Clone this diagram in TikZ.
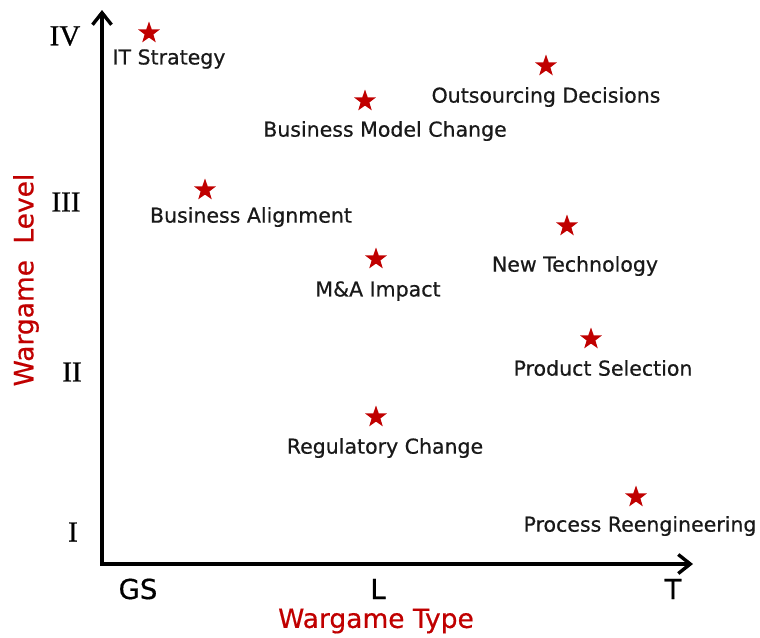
\documentclass[tikz,border=0pt]{standalone}
\usepackage{fontspec}
\setmainfont{DejaVu Sans}[FakeBold=0.6]
\newfontfamily\numfont{Liberation Serif}[FakeBold=0.8]
\usetikzlibrary{arrows.meta,shapes.geometric,positioning}

\definecolor{wgred}{RGB}{192,0,0}

\tikzset{
    mark star/.style={star, star points=5, star point ratio=2.5, minimum size=23pt, inner sep=0pt, fill=wgred, draw=none},
    game/.style={font=\fontsize{20.5}{22}\selectfont, text=black!90, inner sep=0pt, anchor=center},
    level/.style={font=\numfont\fontsize{29}{30}\selectfont, inner sep=0pt},
    gtype/.style={font=\fontsize{27.5}{29}\selectfont, inner sep=0pt},
    axis title/.style={font=\fontsize{26.5}{28}\selectfont, text=wgred, inner sep=0pt},
    barb/.tip={Straight Barb[length=12pt,width=19pt,line width=3.4pt]}
}

\begin{document}
\begin{tikzpicture}[x=1pt, y=-1pt]
    \useasboundingbox (0,0) rectangle (760,637);

    % axes
    \coordinate (origin) at (102,564);
    \coordinate (ytip) at (102,10);
    \coordinate (xtip) at (693,564);
    \draw [line width=3.2pt, barb-barb] (ytip) |- (xtip);

    % level ticks
    \node [level] (lvIV) at (65,36) {IV};
    \node [level] (lvIII) at (66,202) {III};
    \node [level] (lvII) at (72,372) {II};
    \node [level] (lvI) at (73,532) {I};

    % type ticks
    \node [gtype] (tGS) at (138,589) {GS};
    \node [gtype] (tL) at (378,589) {L};
    \node [gtype] (tT) at (673,589) {T};

    \node [axis title] (xtitle) at (376,621) {Wargame Type};
    \node [axis title, rotate=90] (ytitle) at (26,280) {Wargame\hspace{0.3em} Level};

    % wargames
    \node [mark star] (itstrat) at (149,33) {};
    \node [game] at (169,59) {IT Strategy};

    \node [mark star] (outsrc) at (546,66) {};
    \node [game] at (546,97) {Outsourcing Decisions};

    \node [mark star] (bmodel) at (365,101) {};
    \node [game] at (385,131) {Business Model Change};

    \node [mark star] (balign) at (205,190) {};
    \node [game] at (251,217) {Business Alignment};

    \node [mark star] (newtech) at (567,226) {};
    \node [game] at (575,266) {New Technology};

    \node [mark star] (mna) at (376,259) {};
    \node [game] at (378,291) {M\&A Impact};

    \node [mark star] (prodsel) at (591,339) {};
    \node [game] at (603,368) {Product Selection};

    \node [mark star] (regchg) at (376,417) {};
    \node [game] at (385,448) {Regulatory Change};

    \node [mark star] (procre) at (636,497) {};
    \node [game] at (640,526) {Process Reengineering};
\end{tikzpicture}
\end{document}
